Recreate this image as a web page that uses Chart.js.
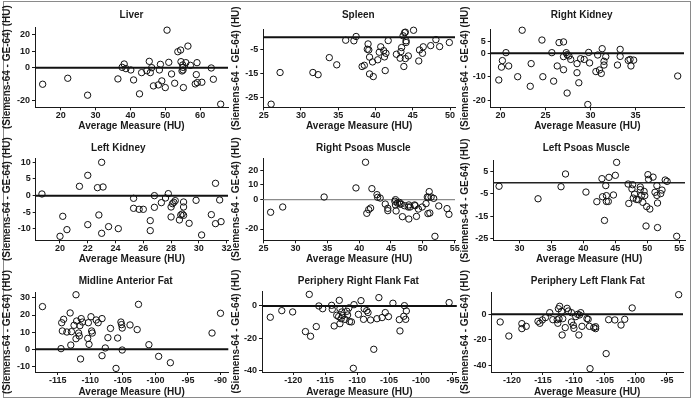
<!DOCTYPE html>
<html><head><meta charset="utf-8">
<script src="https://cdn.jsdelivr.net/npm/chart.js@4"></script>
<style>
html,body{margin:0;padding:0;background:#fff;}
body{width:693px;height:403px;position:relative;overflow:hidden;}
#frame{position:absolute;left:3px;top:1px;width:688px;height:397px;border:1px solid #8a8a8a;box-sizing:border-box;}
canvas{position:absolute;}
</style></head><body>
<div id="frame"></div>
<script>
// ---------- data ----------
const liverX = [14.8,22.0,27.7,36.4,37.6,38.2,38.7,40.1,40.9,42.6,43.2,44.7,45.4,45.7,46.1,46.6,48.0,48.3,48.6,49.0,50.0,50.5,51.0,51.8,52.7,53.6,54.4,54.5,54.8,55.0,55.1,55.1,55.2,55.9,56.5,57.2,58.6,58.9,59.1,59.2,60.5,63.2,63.8,65.9];
const liverY = [-10,-6.4,-16.6,-6.8,0.2,2.2,-0.6,-1.4,-7.4,-15.8,-3,-1.8,3.8,-3,0,-11,-10.4,-1.4,2,-8,-12,22.6,3.2,-3.8,-9.4,9.6,10.6,3.6,-2,1.6,0.2,-1.4,-12,3,13,1.4,-9.8,-4.2,3,-9,-8.8,-0.2,-7,-22];

const spleenX = [26.0,27.2,31.6,32.3,33.8,34.8,36.0,37.1,37.4,38.2,38.5,38.9,39.0,39.1,39.2,39.2,39.6,39.7,40.3,40.5,40.7,41.1,41.2,41.3,41.4,41.7,42.8,43.3,43.4,43.5,43.7,43.8,43.9,44.0,44.0,44.1,44.1,44.4,45.1,45.8,45.9,46.3,46.4,47.4,48.1,48.6,49.9];
const spleenY = [-27.9,-14.7,-14.7,-15.6,-8.5,-11.5,-1.25,-1.5,0.3,-12.2,-11.7,-5,-2.8,-5.3,-8.3,-15.3,-10.3,-16.4,-9.4,-6.25,-4,-5.6,-8.2,-13.9,-6.7,-1.4,-7.1,-8.75,-6,-4.3,0.6,-12.2,1.9,-8.9,2.1,-1.5,-2.2,-7.8,2.9,-9.9,-5.3,-6.7,-4,-3.5,-1,-3.9,-2.2];

const rKidneyX = [19.8,20.2,20.1,20.6,20.9,21.9,22.4,23.4,23.3,24.6,24.7,25.7,25.9,26.3,26.5,27.0,27.0,27.0,27.3,27.4,27.6,27.8,27.4,28.5,28.5,28.7,28.9,29.3,29.7,29.8,29.9,30.8,31.0,31.2,31.3,31.5,31.5,31.7,30.6,33.0,33.3,33.3,34.2,34.4,34.5,34.8,39.7];
const rKidneyY = [-11.4,-3.1,-5.9,0.3,-5.4,-10,9.9,-4.4,-14.1,5.7,-10,0.3,-11.9,-5.4,4.6,4.9,-7,-1.4,0.3,-0.6,-1.1,-2.6,-17,-4.4,-8.3,-12.6,-2.3,-2.6,-21.9,0.4,-4.1,-0.7,-7.1,-8.6,2,-5,-3.4,-1.4,-7.8,-5,1.7,-1.3,-3,-2.6,-5.4,-2.9,-9.7];

const lKidneyX = [18.7,20.0,20.2,20.5,21.4,22.0,22.0,22.7,22.8,23.0,23.0,23.1,23.5,24.2,25.3,25.3,25.7,26.0,26.5,26.5,26.8,26.8,27.3,27.6,27.8,28.0,28.0,28.1,28.2,28.3,28.6,28.7,28.8,28.9,28.9,28.9,29.3,29.8,30.2,30.9,31.2,31.2,31.5,31.6];
const lKidneyY = [0.5,-12.2,-6.2,-10.2,2.8,6.1,-8.7,2.4,-5.8,10,-11.3,2.6,-9.3,-9.9,-0.8,-3.8,-4.1,-4.1,-7.5,-10.5,0,-3.5,-2.1,-0.7,0.6,-6.4,-3.4,-2.4,-2,-1.5,-7.3,-5.8,-5.5,-1.9,-3.4,-5.9,-8.3,-1.4,-11.8,-5.7,-8.4,3.7,-1.3,-7.8];

const rPsoasX = [26.1,28.0,34.5,39.5,41.0,41.2,41.5,41.8,42.0,42.8,42.9,43.3,44.1,44.5,44.5,45.6,45.7,45.7,45.8,46.0,46.3,46.4,46.6,46.8,47.1,47.7,47.8,47.8,48.0,48.7,48.8,49.0,49.3,49.9,50.5,50.7,50.8,51.0,51.1,50.9,51.3,51.7,51.9,52.5,53.8,54.1];
const rPsoasY = [-8.6,-5,1.8,8,25.5,-9.3,-6.8,-5.7,7.5,3.4,1.6,1.1,-3,-5.9,-7.5,-1.1,0,-3.6,-7.7,-2.3,-1.8,-3,-3,-11.6,-4.1,-5,-13.2,-3.6,-5,-3.6,-4.1,-11.4,-6.4,-5,-2.7,1.8,-9.5,5.5,-9.1,1.6,1.8,0.9,-25,-4.3,-6.1,-10];

const lPsoasX = [26.8,32.9,36.5,37.2,40.4,42.1,42.9,43.0,43.3,43.5,43.6,43.6,44.0,43.9,44.7,45.0,45.2,47.0,47.1,47.6,47.7,47.8,48.0,48.3,48.6,48.9,48.9,49.1,49.3,49.5,49.6,49.8,49.9,50.1,50.2,50.4,50.9,51.2,51.5,51.5,51.6,51.6,52.1,52.3,52.8,53.1,54.6];
const lPsoasY = [-1.6,-7.2,-1.8,3.9,-4.2,-8.5,1.8,-6.3,-16.9,-1.3,-5.8,-8.4,2.4,-8.4,-5.5,3.3,9.1,-0.6,-9.3,-2.8,-0.9,-6.9,-5.1,-7.5,-7.6,-1.9,-3.1,-5.7,-8.8,-3.9,-5.8,-19.4,-10.7,3.6,1.5,-11.8,2.5,-4.3,-1.3,-5.7,-9.1,-20.1,-4.9,-3.3,1.2,0.6,-24];

const midFatX = [-117.35,-114.5,-114.4,-114.3,-114.1,-113.6,-113.1,-113.0,-112.9,-112.5,-112.2,-112.2,-112.1,-111.8,-111.7,-111.6,-111.5,-111.4,-111.2,-110.4,-110.2,-110.3,-109.9,-109.8,-109.7,-109.1,-108.8,-108.2,-108.2,-107.7,-107.3,-106.9,-106.05,-105.8,-105.3,-105.2,-105.1,-105.1,-103.9,-102.8,-102.6,-101.0,-99.5,-97.7,-91.3,-90.0];
const midFatY = [24.9,0.4,15.5,10.7,17.5,10.1,21.2,2.5,10.3,14,31.8,6.2,16.5,9.5,7.8,13.8,-5.6,17.9,15.9,6.4,2.9,15.5,19,10.7,9.5,17.1,15.5,17.9,-3.7,0.8,6.8,12.2,-11.1,6.6,15.9,14.4,12.4,-0.4,14.2,11.5,26.2,2.7,-4.1,-7.8,9.5,21];

const rFlankX = [-123.6,-121.8,-120.1,-118.1,-117.5,-117.3,-116.4,-116.0,-115.4,-114.0,-113.9,-113.6,-113.2,-112.9,-112.8,-112.7,-112.7,-112.5,-112.4,-112.3,-111.9,-111.6,-111.5,-111.3,-111.2,-110.9,-110.6,-110.5,-109.8,-109.4,-109.0,-108.9,-108.5,-108.3,-107.9,-107.4,-106.9,-106.6,-106.1,-105.6,-105.1,-104.4,-103.4,-103.3,-102.7,-102.6,-102.4,-102.3,-95.6];
const rFlankY = [-7,-2.9,-3.7,-15.9,7.2,-18.8,-12.8,0,-1.7,0.4,-2.1,-12.4,-5.8,-6.6,3.5,-11,-1.7,-7.9,-3.7,-6,-8.3,-3.3,-5.6,-1.2,-9.7,-9.9,-38.7,0.8,-5.2,3.3,-8.3,-1.7,-2.9,-4.1,-8.7,-26.9,-7.9,5.2,-7.2,-4.1,-6.6,1.7,-8.5,-15.5,-6.4,0.2,-8.3,-3.1,2.1];

const lFlankX = [-121.9,-120.5,-118.4,-118.4,-117.7,-115.8,-115.5,-115.1,-114.6,-113.9,-113.4,-112.7,-112.6,-112.5,-112.3,-112.4,-112.0,-111.9,-111.8,-111.4,-111.1,-110.9,-110.4,-110.4,-110.1,-110.0,-109.7,-109.4,-109.2,-109.1,-108.9,-108.7,-107.9,-107.7,-107.5,-107.4,-106.8,-106.5,-106.5,-104.4,-104.8,-103.4,-102.4,-101.8,-100.6,-93.1];
const lFlankY = [-6,-17,-7.3,-11.2,-9.4,-5.5,-7,-4.4,-2.6,1.3,-4.2,-4.2,-7,4.4,6.3,-3.4,2.3,-16.2,-3.4,-10.4,4.7,2.6,-6,1.3,-8.6,-11,-1.8,0,-16.2,-0.5,1.3,-9.4,-3.4,-3.9,-9.4,-42.6,-10.4,-9.7,-11.2,-4.2,-30.8,-4.4,-8.4,-3.9,5,15.4];

// tick values (labels shown)
const liverXTicks = [20,30,40,50,60],           liverYTicks = [-20,0,10,20];
const spleenXTicks = [25,30,35,40,45,50],       spleenYTicks = [-25,-15,-5];
const rKidneyXTicks = [20,25,30,35],            rKidneyYTicks = [-20,-10,0,5];
const lKidneyXTicks = [20,22,24,26,28,30,32],   lKidneyYTicks = [-10,-5,0,5,10];
const rPsoasXTicks = [25,30,35,40,45,50,55],    rPsoasYTicks = [-20,0,10,20];
const lPsoasXTicks = [30,35,40,45,50,55],       lPsoasYTicks = [-25,-15,-5,5];
const midFatXTicks = [-115,-110,-105,-100,-95,-90], midFatYTicks = [-10,0,10,20,30];
const rFlankXTicks = [-120,-115,-110,-105,-100,-95], rFlankYTicks = [-40,-20,0];
const lFlankXTicks = [-120,-115,-110,-105,-100,-95], lFlankYTicks = [-40,-20,0];

const titles = ['Liver','Spleen','Right Kidney','Left Kidney','Right Psoas Muscle','Left Psoas Muscle','Midline Anterior Fat','Periphery Right Flank Fat','Periphery Left Flank Fat'];
const xAxisTitle = 'Average Measure (HU)';
const yAxisTitle = '(Siemens-64 - GE-64) (HU)';

// ---------- layout ----------
const colLeft = [0,229,458], colWidth = [234,232,235];
const rowTop = [0,133,266], rowHeight = [133,133,137];

const panels = [
 {t:0,col:0,row:0,xs:liverX,ys:liverY,xt:liverXTicks,yt:liverYTicks,xr:[12.6,68.0],yr:[-23.9,24.5],plot:{l:35,t:27,r:228,b:107.3},tx:131.5,ty:15,xty:126.7,ytx:7.3,zc:'#111',zw:2},
 {t:1,col:1,row:0,xs:spleenX,ys:spleenY,xt:spleenXTicks,yt:spleenYTicks,xr:[24.95,50.66],yr:[-29.2,3.3],plot:{l:263.3,t:29.3,r:455,b:107.3},tx:358.3,ty:15,xty:126.7,ytx:236.7,zc:'#111',zw:2},
 {t:2,col:2,row:0,xs:rKidneyX,ys:rKidneyY,xt:rKidneyXTicks,yt:rKidneyYTicks,xr:[18.9,40.4],yr:[-23.1,10.3],plot:{l:490.7,t:29.3,r:684,b:107.3},tx:581.7,ty:15,xty:126.7,ytx:465,zc:'#111',zw:2},
 {t:3,col:0,row:1,xs:lKidneyX,ys:lKidneyY,xt:lKidneyXTicks,yt:lKidneyYTicks,xr:[18.25,32.1],yr:[-13.4,11.3],plot:{l:35.7,t:158,r:228,b:240.3},tx:118.3,ty:148,xty:259.7,ytx:7.3,zc:'#111',zw:2},
 {t:4,col:1,row:1,xs:rPsoasX,ys:rPsoasY,xt:rPsoasXTicks,yt:rPsoasYTicks,xr:[24.95,55.05],yr:[-27.7,28.4],plot:{l:263.3,t:158,r:455,b:240.3},tx:363.3,ty:148,xty:259.7,ytx:236.7,zc:'#8c8c8c',zw:1.2},
 {t:5,col:2,row:1,xs:lPsoasX,ys:lPsoasY,xt:lPsoasXTicks,yt:lPsoasYTicks,xr:[25.9,55.9],yr:[-25.8,9.85],plot:{l:493.3,t:160.7,r:685,b:240.3},tx:586.3,ty:148,xty:259.7,ytx:465,zc:'#222',zw:1.4},
 {t:6,col:0,row:2,xs:midFatX,ys:midFatY,xt:midFatXTicks,yt:midFatYTicks,xr:[-118.5,-88.8],yr:[-13.2,33.4],plot:{l:35,t:292,r:228.3,b:372},tx:125.7,ty:281,xty:392,ytx:7.3,zc:'#111',zw:2},
 {t:7,col:1,row:2,xs:rFlankX,ys:rFlankY,xt:rFlankXTicks,yt:rFlankYTicks,xr:[-124.9,-94.4],yr:[-41,9.3],plot:{l:262,t:291,r:457,b:372},tx:358.3,ty:281,xty:392,ytx:236.7,zc:'#111',zw:2},
 {t:8,col:2,row:2,xs:lFlankX,ys:lFlankY,xt:lFlankXTicks,yt:lFlankYTicks,xr:[-123.3,-92.4],yr:[-45.2,17.5],plot:{l:491.5,t:292,r:683,b:372},tx:587.8,ty:281,xty:392,ytx:465,zc:'#111',zw:2}
];

const FONT = "'Liberation Sans', Arial, Helvetica, sans-serif";
const INK = '#1a1a1a';

const zeroLine = {
  id: 'zeroLine',
  beforeDatasetsDraw(chart, args, opts) {
    const {ctx, chartArea: a, scales: {y}} = chart;
    const py = y.getPixelForValue(0);
    ctx.save();
    ctx.strokeStyle = opts.color; ctx.lineWidth = opts.width;
    ctx.beginPath(); ctx.moveTo(a.left, py); ctx.lineTo(a.right, py); ctx.stroke();
    ctx.restore();
  }
};
const panelTitle = {
  id: 'panelTitle',
  afterDraw(chart, args, opts) {
    const ctx = chart.ctx;
    ctx.save();
    ctx.font = 'bold ' + opts.size + 'px ' + FONT;
    ctx.fillStyle = INK; ctx.textAlign = 'center'; ctx.textBaseline = 'middle';
    ctx.fillText(opts.text, opts.x, opts.y);
    ctx.restore();
  }
};

panels.forEach(p => {
  const cL = colLeft[p.col], cT = rowTop[p.row], cW = colWidth[p.col], cH = rowHeight[p.row];
  const cv = document.createElement('canvas');
  cv.width = cW; cv.height = cH;
  cv.style.left = cL + 'px'; cv.style.top = cT + 'px';
  cv.style.width = cW + 'px'; cv.style.height = cH + 'px';
  document.body.appendChild(cv);
  const H = p.xty + 6 - p.plot.b;
  const W = p.plot.l - cL;
  const tickFont = {family: FONT, size: 9, weight: 'bold'};
  const titleFont = {family: FONT, size: 10, weight: 'bold'};
  const gridOpt = {display: true, drawOnChartArea: false, drawTicks: true, tickLength: 3, color: INK, lineWidth: 1};
  const borderOpt = {display: true, color: INK, width: 1};
  new Chart(cv, {
    type: 'scatter',
    data: {datasets: [{
      data: p.xs.map((x, i) => ({x: x, y: p.ys[i]})),
      pointRadius: 3.2, pointHoverRadius: 3.2,
      pointBorderWidth: 1, borderWidth: 1,
      pointBorderColor: '#111', borderColor: '#111',
      pointBackgroundColor: 'rgba(0,0,0,0)', backgroundColor: 'rgba(0,0,0,0)',
      clip: false
    }]},
    options: {
      responsive: false, animation: false, devicePixelRatio: 1,
      events: [],
      layout: {padding: {left: 0, top: p.plot.t - cT, right: cL + cW - p.plot.r, bottom: cT + cH - p.plot.b - H}},
      plugins: {
        legend: {display: false}, tooltip: {enabled: false}, title: {display: false},
        zeroLine: {color: p.zc, width: p.zw},
        panelTitle: {text: titles[p.t], x: p.tx - cL, y: p.ty - cT, size: 10}
      },
      scales: {
        x: {
          type: 'linear', position: 'bottom', bounds: 'data', min: p.xr[0], max: p.xr[1],
          afterBuildTicks: s => { s.ticks = p.xt.map(v => ({value: v})); },
          afterFit: s => { s.height = H; },
          ticks: {font: tickFont, color: INK, padding: 0, maxRotation: 0, autoSkip: false, callback: v => String(v)},
          grid: gridOpt, border: borderOpt,
          title: {display: true, text: xAxisTitle, font: titleFont, color: INK, padding: {top: 0, bottom: 0}}
        },
        y: {
          type: 'linear', position: 'left', bounds: 'data', min: p.yr[0], max: p.yr[1],
          afterBuildTicks: s => { s.ticks = p.yt.map(v => ({value: v})); },
          afterFit: s => { s.width = W; },
          ticks: {font: tickFont, color: INK, padding: 2, autoSkip: false, callback: v => String(v)},
          grid: gridOpt, border: borderOpt,
          title: {display: true, text: yAxisTitle, font: titleFont, color: INK, padding: {top: p.ytx - cL - 6, bottom: 0}}
        }
      }
    },
    plugins: [zeroLine, panelTitle]
  });
});
</script>
</body></html>
